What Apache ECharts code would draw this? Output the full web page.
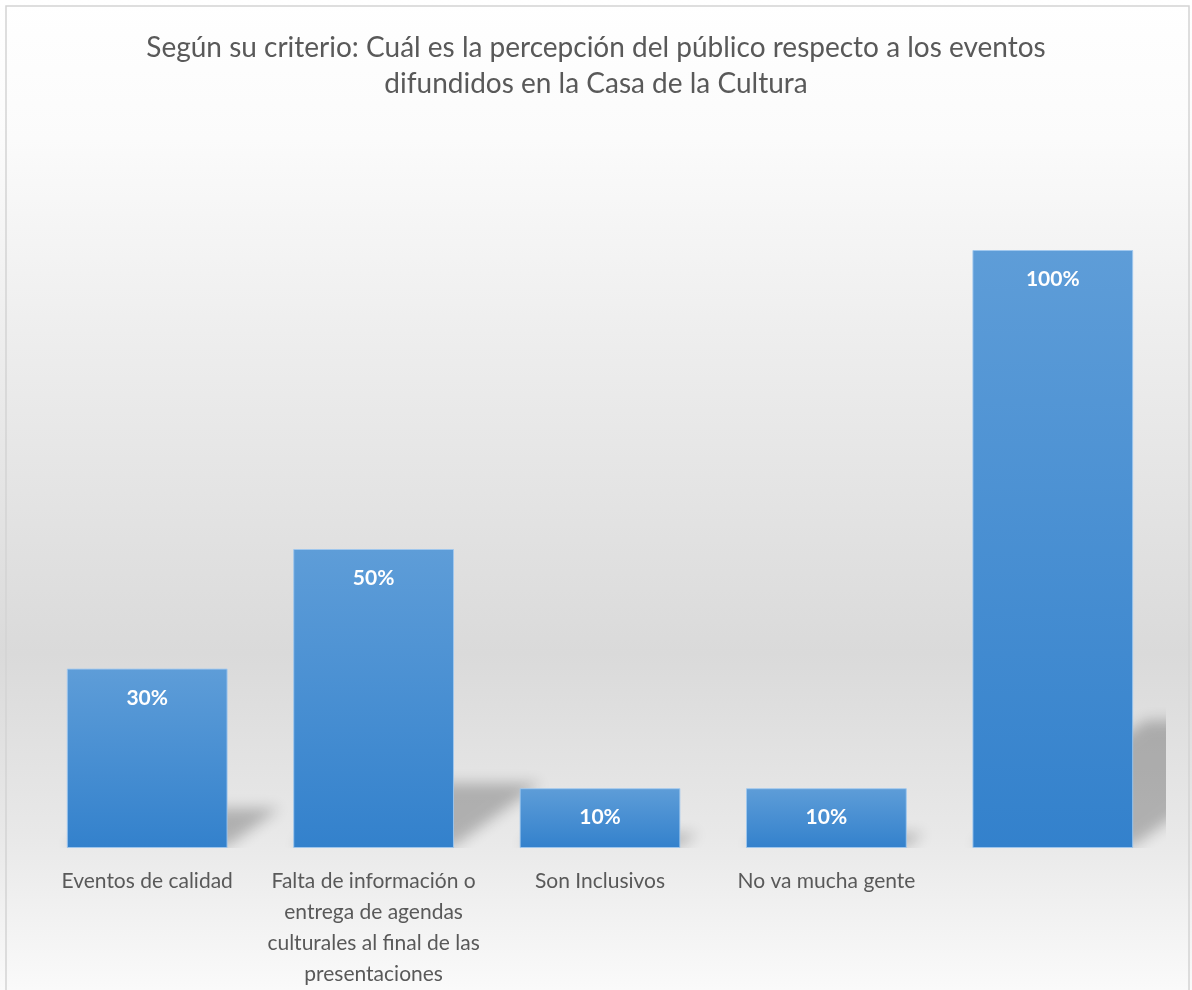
<!DOCTYPE html>
<html>
<head>
<meta charset="utf-8">
<script src="https://cdn.jsdelivr.net/npm/echarts@6/dist/echarts.min.js"></script>
<style>
  html, body { margin: 0; padding: 0; background: #ffffff; }
  #chart { width: 1192px; height: 990px; }
</style>
</head>
<body>
<div id="chart"></div>
<script>
// Survey answers and their shares (percent)
const categories = [
  'Eventos de calidad',
  'Falta de información o\nentrega de agendas\nculturales al final de las\npresentaciones',
  'Son Inclusivos',
  'No va mucha gente',
  ''
];
const values = [30, 50, 10, 10, 100];
const titleText = 'Según su criterio: Cuál es la percepción del público respecto a los eventos\ndifundidos en la Casa de la Cultura';

const FONT = 'Lato, "Noto Sans", sans-serif';
const BAR_RATIO = 0.71;
// shapes are drawn far off-canvas so that only their blurred shadow lands on the chart
const SHADOW_SHIFT = 3000;

const chart = echarts.init(document.getElementById('chart'), null, { renderer: 'canvas' });

chart.setOption({
  animation: false,
  backgroundColor: {
    type: 'linear', x: 0, y: 0, x2: 0, y2: 1,
    colorStops: [
      { offset: 0.00, color: '#ffffff' },
      { offset: 0.14, color: '#fbfbfb' },
      { offset: 0.35, color: '#ededed' },
      { offset: 0.66, color: '#dadada' },
      { offset: 0.84, color: '#e8e8e8' },
      { offset: 1.00, color: '#fafafa' }
    ]
  },
  title: {
    text: titleText,
    left: 'center',
    top: 25,
    textStyle: {
      fontFamily: FONT,
      fontSize: 28,
      fontWeight: 'normal',
      color: '#595959',
      lineHeight: 36,
      align: 'center'
    }
  },
  graphic: [{
    type: 'rect',
    silent: true,
    z: 100,
    shape: { x: 6, y: 6, width: 1183, height: 1000 },
    style: { fill: 'none', stroke: '#d4d4d4', lineWidth: 1.5 }
  }],
  grid: { left: 34, right: 26, top: 250, bottom: 134 },
  xAxis: {
    type: 'category',
    data: categories,
    axisLine: { show: false },
    axisTick: { show: false },
    axisLabel: {
      interval: 0,
      margin: 18,
      fontFamily: FONT,
      fontSize: 21,
      lineHeight: 31,
      color: '#595959',
      align: 'center'
    }
  },
  yAxis: {
    type: 'value',
    min: 0,
    max: 100,
    show: false,
    splitLine: { show: false }
  },
  series: [
    {
      // perspective shadow cast up and to the right of each bar
      type: 'custom',
      z: 1,
      silent: true,
      clip: true,
      data: values.map((v, i) => [i, v]),
      renderItem: function (params, api) {
        const idx = api.value(0);
        const val = api.value(1);
        const top = api.coord([idx, val]);
        const base = api.coord([idx, 0]);
        const band = api.size([1, 0])[0];
        const half = band * BAR_RATIO / 2;
        const h = base[1] - top[1];
        const dx = h * 0.29;
        const dy = h * 0.21;
        const x0 = base[0] - half - SHADOW_SHIFT;
        const x1 = base[0] + half - SHADOW_SHIFT;
        const y = base[1] - 2;
        return {
          type: 'polygon',
          shape: {
            points: [[x0, y], [x1, y], [x1 + dx, y - dy], [x0 + dx, y - dy]]
          },
          style: {
            fill: '#000000',
            shadowColor: 'rgba(0,0,0,0.24)',
            shadowBlur: 14,
            shadowOffsetX: SHADOW_SHIFT,
            shadowOffsetY: 0
          }
        };
      }
    },
    {
      type: 'bar',
      z: 2,
      data: values,
      barWidth: (BAR_RATIO * 100) + '%',
      itemStyle: {
        color: {
          type: 'linear', x: 0, y: 0, x2: 0, y2: 1,
          colorStops: [
            { offset: 0, color: '#5e9dd8' },
            { offset: 1, color: '#3381cc' }
          ]
        },
        borderColor: 'rgba(160,200,238,0.9)',
        borderWidth: 1
      },
      label: {
        show: true,
        position: 'insideTop',
        distance: 19,
        formatter: '{c}%',
        fontFamily: FONT,
        fontSize: 21,
        fontWeight: 'bold',
        color: '#ffffff'
      }
    }
  ]
});
</script>
</body>
</html>
